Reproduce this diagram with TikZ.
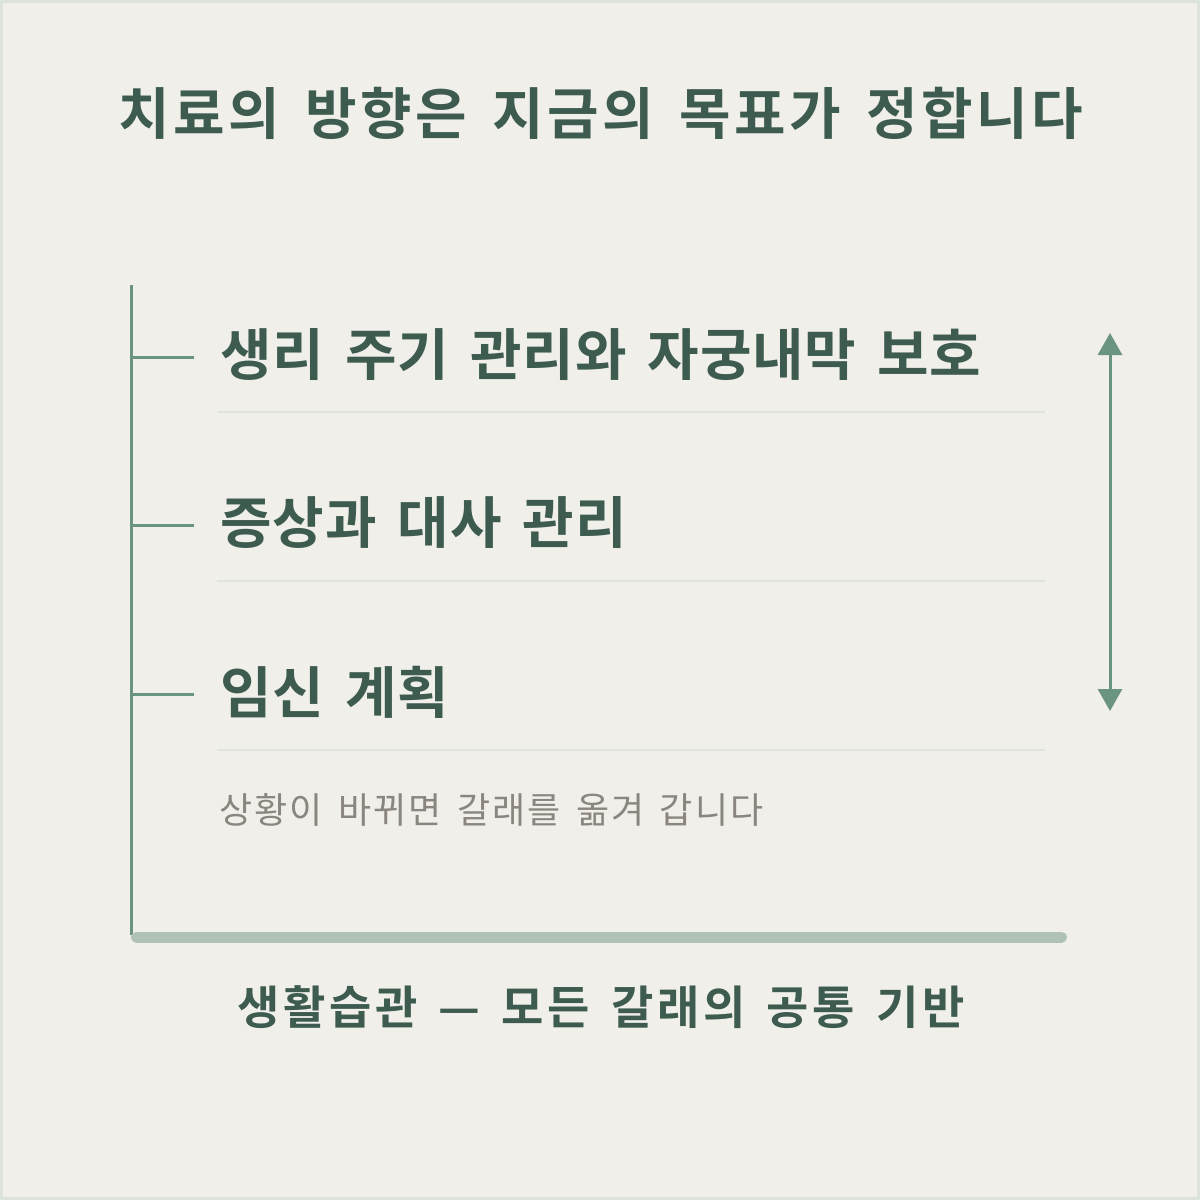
\documentclass[tikz,border=0pt]{standalone}
\usepackage{fontspec}
\setmainfont{Noto Sans CJK KR}
\newfontfamily\titlefont[LetterSpace=6,WordSpace=1.6]{Noto Sans CJK KR Bold}
\newfontfamily\labelfont[LetterSpace=1.6,WordSpace=1.55]{Noto Sans CJK KR Bold}
\newfontfamily\basefont[LetterSpace=8,WordSpace=1.5]{Noto Sans CJK KR Bold}
\newfontfamily\subfont[LetterSpace=6,WordSpace=1.5]{Noto Sans CJK KR}
\usetikzlibrary{arrows.meta}
\definecolor{bgc}{HTML}{F0EFEA}
\definecolor{framec}{HTML}{DCE3DD}
\definecolor{darkg}{HTML}{3D5C4F}
\definecolor{lineg}{HTML}{6B9480}
\definecolor{baseg}{HTML}{B0C2B7}
\definecolor{sepc}{HTML}{DFE4DE}
\definecolor{greyt}{HTML}{8A857E}
\begin{document}
\begin{tikzpicture}[x=1pt,y=-1pt,
  titlestyle/.style={font=\titlefont\fontsize{56}{62}\selectfont, text=darkg, inner sep=0pt},
  labelstyle/.style={font=\labelfont\fontsize{56}{62}\selectfont, text=darkg, inner sep=0pt, anchor=west},
  substyle/.style={font=\subfont\fontsize{36}{40}\selectfont, text=greyt, inner sep=0pt, anchor=west},
  basestyle/.style={font=\basefont\fontsize{46}{52}\selectfont, text=darkg, inner sep=0pt},
  trunk/.style={draw=lineg, line width=3pt},
  sepline/.style={draw=sepc, line width=2pt},
  ground/.style={draw=baseg, line width=11pt, line cap=round},
  swing/.style={draw=lineg, line width=3pt, {Triangle[width=24pt,length=22pt]}-{Triangle[width=24pt,length=22pt]}}
]
\useasboundingbox (0,0) rectangle (1200,1200);
\fill[bgc] (0,0) rectangle (1200,1200);
\draw[framec, line width=3pt] (1.5,1.5) rectangle (1198.5,1198.5);

\node[titlestyle] (title) at (601,113) {치료의 방향은 지금의 목표가 정합니다};

% trunk
\coordinate (ttop) at (131,285);
\coordinate (tbot) at (131,935);
\draw[trunk] (ttop) -- (tbot);

\coordinate (b1) at (131,357);
\coordinate (b1e) at (194,357);
\coordinate (b2) at (131,525);
\coordinate (b2e) at (194,525);
\coordinate (b3) at (131,694);
\coordinate (b3e) at (194,694);
\draw[trunk] (b1) -- (b1e);
\draw[trunk] (b2) -- (b2e);
\draw[trunk] (b3) -- (b3e);

\node[labelstyle] (l1) at (220,355) {생리 주기 관리와 자궁내막 보호};
\node[labelstyle] (l2) at (220,523) {증상과 대사 관리};
\node[labelstyle] (l3) at (220,692) {임신 계획};

\coordinate (s1a) at (217,412); \coordinate (s1b) at (1045,412);
\coordinate (s2a) at (217,581); \coordinate (s2b) at (1045,581);
\coordinate (s3a) at (217,750); \coordinate (s3b) at (1045,750);
\draw[sepline] (s1a) -- (s1b);
\draw[sepline] (s2a) -- (s2b);
\draw[sepline] (s3a) -- (s3b);

\node[substyle] (sub) at (219,810) {상황이 바뀌면 갈래를 옮겨 갑니다};

\coordinate (gl) at (136.5,937);
\coordinate (gr) at (1061.5,937);
\draw[ground] (gl) -- (gr);

\node[basestyle] (base) at (601,1007) {생활습관 — 모든 갈래의 공통 기반};

\coordinate (atop) at (1110,333);
\coordinate (abot) at (1110,711);
\draw[swing] (atop) -- (abot);
\end{tikzpicture}
\end{document}
